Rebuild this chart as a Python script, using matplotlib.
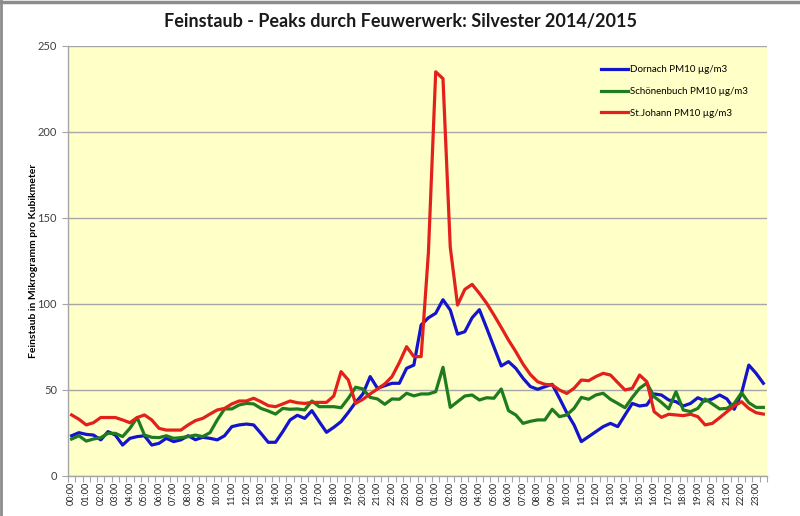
import matplotlib
matplotlib.use("Agg")
import matplotlib.pyplot as plt
from matplotlib.lines import Line2D
import numpy as np

plt.rcParams['font.family'] = ['Lato', 'DejaVu Sans']

hours = [f"{h:02d}:00" for h in range(24)] * 2

dornach = [23.4, 25.2, 24.2, 23.8, 21, 25.8, 23.8, 18, 21.9, 22.9, 23.4, 18, 19, 21.9, 20, 21,
           23.4, 21.1, 22.5, 21.9, 21, 23.4, 28.7, 29.7, 30.2, 29.7, 24.8, 19.6, 19.6, 25.8, 32.6, 35.3,
           33.5, 38, 31.6, 25.4, 28.3, 31.6, 37, 42.8, 47.7, 57.8, 51, 52.5, 53.9, 53.9, 62.6, 64.5,
           87.8, 92, 94.6, 102.5, 96.5, 82.5, 83.9, 92, 96.7, 86, 75, 64, 66.5, 62.6, 56.8, 52,
           50.4, 51.9, 53.3, 45.2, 36.8, 29.7, 20, 22.9, 25.8, 28.7, 30.6, 28.7, 35.5, 42.2, 40.7, 41.3,
           47.7, 47.1, 44.2, 43.2, 40.7, 42.2, 45.5, 43.6, 44.8, 47.1, 44.8, 38.8, 48.1, 64.5, 59.7, 53.9]

schoenenbuch = [21.5, 23.4, 20.3, 21.5, 22.3, 24.8, 24.8, 22.9, 27.7, 34, 23.8, 22.5, 22.3, 23.4, 21.9, 22.3,
                22.9, 23.8, 22.9, 25.2, 32.6, 39, 39, 41.3, 42.2, 41.9, 39.3, 37.8, 36, 39.3, 38.8, 39,
                38.4, 43.6, 40.3, 40.3, 40.3, 39.7, 45.2, 51.6, 50.6, 45.7, 44.8, 41.7, 44.8, 44.6, 48.1, 46.6,
                47.7, 47.7, 49, 63.2, 39.9, 43.2, 46.5, 47.1, 44.2, 45.5, 45.2, 50.6, 38, 35.5, 30.6, 31.8,
                32.6, 32.6, 38.8, 34.5, 35.5, 39.3, 45.7, 44.6, 47.1, 48.1, 44.6, 42.2, 39.7, 45.7, 51, 54,
                46.1, 42.8, 39, 49, 38.4, 37.4, 39.3, 44.8, 41.9, 39, 39.3, 42.2, 48.4, 42.6, 39.9, 39.9]

st_johann = [35.5, 33, 29.7, 31, 34, 34, 34, 32.6, 31, 34, 35.5, 32.6, 27.7, 26.7, 26.7, 26.7,
             29.7, 32.2, 33.5, 36, 38.4, 39.3, 41.9, 43.6, 43.6, 45.2, 43.2, 40.9, 40.3, 41.9, 43.6, 42.6,
             42.2, 42.8, 42.8, 42.8, 46.5, 60.7, 55.8, 42.2, 44.6, 47.7, 50.6, 53.5, 57.8, 65.9, 75.2, 69.4,
             69.4, 130, 235, 231, 133, 99.4, 108.5, 111.4, 106.2, 100.4, 93.6, 86.4, 79, 72.3, 65, 59,
             54.8, 53.3, 52.9, 50, 48, 51, 55.8, 55.4, 57.8, 59.7, 58.7, 54.3, 50, 51, 58.7, 54.8,
             37.4, 34.1, 35.9, 35.5, 35.1, 35.9, 34.5, 29.7, 30.6, 33.9, 37.4, 40.7, 43.2, 39.3, 36.8, 36]

series_names = ["Dornach PM10 µg/m3", "Schönenbuch PM10 µg/m3", "St.Johann PM10 µg/m3"]
colors = ["#1414CC", "#1E7B1E", "#E3201B"]

fig = plt.figure(figsize=(8.0, 5.16), dpi=100)
fig.patch.set_facecolor("white")
fig.add_artist(Line2D([0, 1], [0.997, 0.997], transform=fig.transFigure, color="#8C8C8C", lw=2.5))
fig.add_artist(Line2D([0.0015, 0.0015], [0, 1], transform=fig.transFigure, color="#8C8C8C", lw=2.0))

ax = fig.add_axes([68/800, 1-476/516, (767-68)/800, (476-46)/516])
ax.set_facecolor("#FFFFC8")

x = np.arange(len(dornach))
for vals, name, c in zip([dornach, schoenenbuch, st_johann], series_names, colors):
    ax.plot(x, vals, color=c, lw=2.3, label=name, solid_joinstyle='round')

ax.set_xlim(-0.5, len(x) - 0.5)
ax.set_ylim(0, 250)
ax.set_yticks(np.arange(0, 251, 50))
ax.yaxis.grid(True, color="#A6A6A6", lw=1)
ax.set_axisbelow(True)
ax.tick_params(axis='y', labelsize=8, labelcolor="#404040", length=4, width=0.8, pad=4, color="#A6A6A6")

ax.set_xticks(x[::2])
ax.set_xticklabels(hours, rotation=90, fontsize=6.5, color="#202020")
ax.set_xticks(np.arange(-0.5, len(x), 1), minor=True)
ax.tick_params(axis='x', which='major', length=0, pad=4)
ax.tick_params(axis='x', which='minor', length=4, color="#A6A6A6", width=0.8)

for s in ['top', 'right']:
    ax.spines[s].set_visible(False)
for s in ['left', 'bottom']:
    ax.spines[s].set_color("#A6A6A6")
    ax.spines[s].set_linewidth(1)

ax.set_ylabel("Feinstaub in Mikrogramm pro Kubikmeter", fontsize=7.5, fontweight='bold')
ax.yaxis.set_label_coords(-0.043, 0.5)

fig.text(0.5, 1-22/516, "Feinstaub - Peaks durch Feuwerwerk: Silvester 2014/2015",
         ha='center', va='center', fontsize=13, fontweight='bold', color="#1A1A1A")

leg = ax.legend(loc='upper right', bbox_to_anchor=(0.985, 0.975), frameon=False, fontsize=7,
                handlelength=2.8, handletextpad=0.2, labelspacing=1.3)

fig.savefig("out.png", dpi=100)
